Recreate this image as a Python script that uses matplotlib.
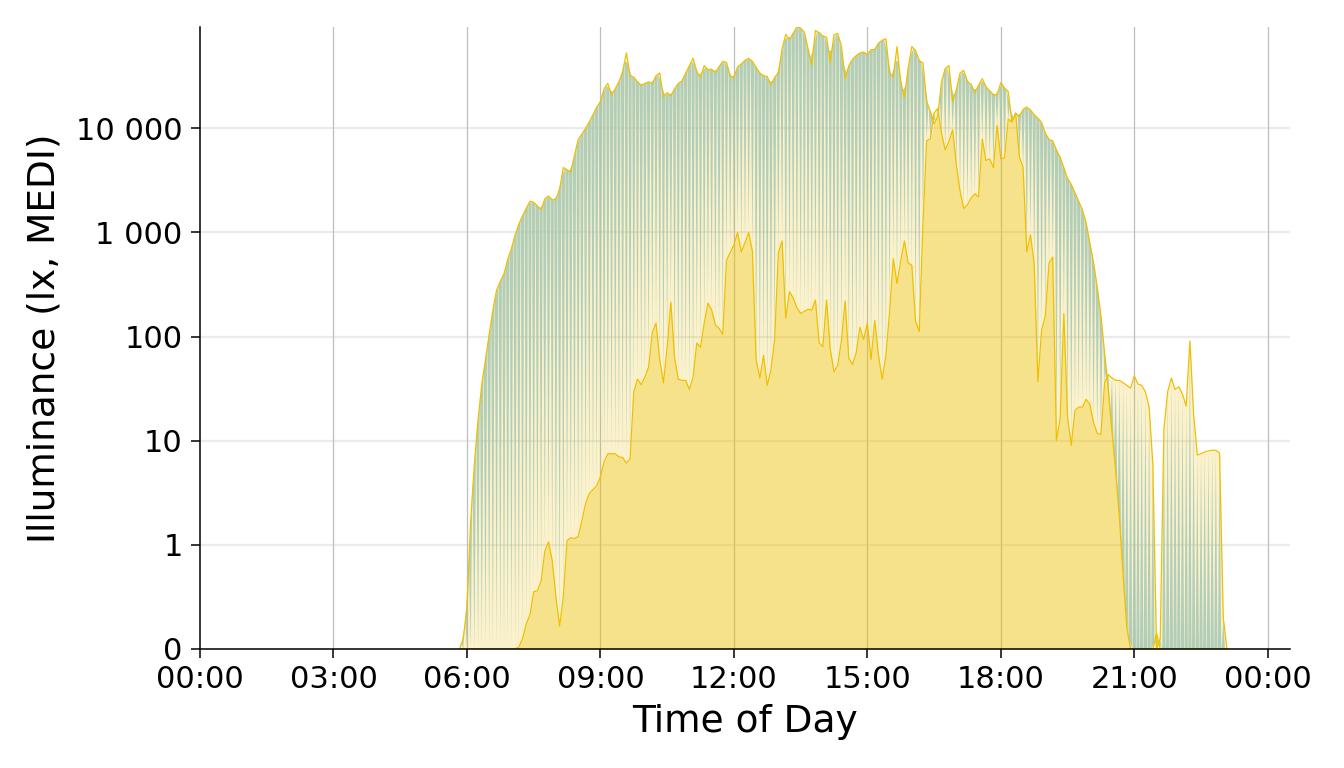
import numpy as np
import matplotlib
matplotlib.use("Agg")
import matplotlib.pyplot as plt
from matplotlib.collections import PolyCollection

# 5-minute epochs from 05:50 to 23:05
start_h = 5 + 50 / 60
step_h = 5 / 60

# series A (the high one in daytime), lux
light_a = ([0, 0.1]
           + [0.4, 1.7, 6, 16, 35, 60, 105, 180, 280, 340, 400, 550]                      # 06
           + [700, 950, 1200, 1450, 1700, 2000, 1950, 1800, 1650, 2100, 2250, 2050]        # 07
           + [2100, 2600, 4200, 4000, 3800, 5500, 7800, 8800, 10000, 11500, 13500, 16000]  # 08
           + [18000, 24000, 27000, 21000, 24000, 28000, 35000, 53000, 32000, 31000, 28000, 26000]
           + [27000, 28000, 27000, 32000, 34000, 20000, 22000, 20500, 24000, 27000, 28500, 34000]
           + [40000, 47000, 35000, 31000, 40000, 36500, 37000, 34500, 39000, 44000, 43000, 32000]
           + [30500, 39000, 41500, 45000, 47000, 44000, 38500, 34000, 32000, 31500, 26000, 31000]
           + [34000, 58000, 80000, 71000, 82000, 94000, 92000, 84000, 58000, 40500, 87000, 83000]
           + [77000, 75000, 43000, 79000, 81500, 62000, 30000, 40000, 46000, 50000, 53000, 54000]
           + [51000, 57000, 57000, 66000, 70000, 72500, 34000, 31000, 61000, 28000, 19700, 38000]
           + [61000, 56000, 44500, 42500, 18000, 14500, 11000, 13000, 28000, 37500, 40000, 18000]
           + [23500, 34000, 36000, 28000, 26500, 22000, 26000, 30000, 25000, 23000, 21000, 21000]
           + [27500, 24500, 22500, 11500, 14000, 13000, 15200, 16000, 15000, 13500, 12500, 11400]
           + [9000, 7800, 7600, 6200, 5300, 4200, 3300, 2900, 2400, 2000, 1650, 1250]
           + [800, 520, 300, 160, 70, 30, 12, 5, 1.8, 0.7, 0.2, 0]
           + [0, 0, 0, 0, 0, 0, 0.15, 0, 0, 0, 0, 0]
           + [0] * 12
           + [0, 0])

# series B (the low one in daytime), lux
light_b = ([0, 0]
           + [0] * 12
           + [0, 0, 0.02, 0.1, 0.24, 0.33, 0.55, 0.56, 0.65, 0.94, 1.07, 0.85]
           + [0.5, 0.22, 0.5, 1.1, 1.17, 1.15, 1.2, 1.7, 2.5, 3.1, 3.4, 3.7]
           + [4.5, 6.3, 7.5, 7.5, 7.5, 7, 6.9, 6.1, 6.7, 29.5, 39, 34.5]
           + [41, 51, 110, 135, 60, 36, 79, 215, 63, 39, 38, 38]
           + [31, 41, 87, 79, 135, 210, 180, 130, 120, 105, 540, 640]
           + [760, 1000, 650, 800, 1000, 660, 60, 40, 66, 34, 48, 95]
           + [640, 830, 150, 270, 235, 190, 167, 175, 183, 180, 225, 87]
           + [80, 225, 76, 46, 53, 91, 220, 62, 54, 70, 123, 94]
           + [135, 60, 143, 66, 39, 66, 173, 560, 324, 535, 830, 510]
           + [485, 140, 112, 1200, 7600, 7900, 14000, 15500, 9000, 6200, 7500, 9700]
           + [4500, 2500, 1700, 1850, 2150, 2350, 2200, 7900, 4900, 5100, 4200, 10700]
           + [5100, 5200, 12300, 11500, 14000, 5300, 4250, 650, 950, 500, 37, 115]
           + [158, 510, 580, 10, 16.5, 167, 17, 9, 19.6, 21, 21, 25]
           + [22.5, 15, 11.8, 11.5, 36, 43, 40, 38, 38, 36, 34, 32]
           + [42, 35, 34, 29.5, 21, 6, 0, 0.1, 13, 29.5, 40, 31]
           + [33, 28, 21.5, 91, 18, 7.3, 7.5, 7.8, 8, 8.1, 8.1, 7.6]
           + [0.3, 0])

y_ticks = [0, 1, 10, 100, 1000, 10000]
y_labels = ["0", "1", "10", "100", "1 000", "10 000"]
x_ticks = list(range(0, 25, 3))
x_labels = ["00:00", "03:00", "06:00", "09:00", "12:00", "15:00", "18:00", "21:00", "00:00"]

A = np.array(light_a, float)
B = np.array(light_b, float)
t = start_h + step_h * np.arange(len(A))


# symlog: linear 0..1, log10 above
def fwd(v):
    v = np.asarray(v, float)
    return np.where(v <= 1, v, 1 + np.log10(np.maximum(v, 1)))


def inv(u):
    u = np.asarray(u, float)
    return np.where(u <= 1, u, 10 ** (u - 1))


YEL = "#EFC000"

fig = plt.figure(figsize=(13.44, 7.68), dpi=100)
ax = fig.add_axes([200 / 1344, 1 - 649 / 768, 1090 / 1344, 622 / 768])
ax.set_yscale("function", functions=(fwd, inv))

# grid underneath
for yt in y_ticks[1:]:
    ax.axhline(yt, color="#EBEBEB", lw=1.6, zorder=0)
for xt in x_ticks[1:]:
    ax.axvline(xt, color="#BEBEBE", lw=0.9, zorder=0)

lo = np.minimum(A, B)
hi = np.maximum(A, B)
ax.fill_between(t, lo, hi, color=YEL, alpha=0.2, lw=0, zorder=1)

# striped gradient: wedges from series A down to series B
uA = fwd(A)
w = step_h * 0.9
wedges = []
for i in range(len(t)):
    if A[i] == 0 and B[i] == 0:
        continue
    l, r = t[i] - w / 2, t[i] + w / 2
    yl = float(inv(np.interp(l, t, uA)))
    yr = float(inv(np.interp(r, t, uA)))
    wedges.append([(l, yl), (r, yr), (t[i], B[i])])
pc = PolyCollection(wedges, facecolor="#A6C8B6", edgecolor="none", alpha=0.85, zorder=2)
ax.add_collection(pc)

ax.fill_between(t, 0, lo, color=YEL, alpha=0.45, lw=0, zorder=3)
ax.plot(t, A, color=YEL, lw=0.9, zorder=4)
ax.plot(t, B, color=YEL, lw=0.9, zorder=4)

ax.set_xlim(0, 24.5)
ax.set_ylim(0, A.max())
ax.set_xticks(x_ticks)
ax.set_xticklabels(x_labels)
ax.set_yticks(y_ticks)
ax.set_yticklabels(y_labels)
ax.minorticks_off()

for s in ["top", "right"]:
    ax.spines[s].set_visible(False)
for s in ["left", "bottom"]:
    ax.spines[s].set_linewidth(1.1)
    ax.spines[s].set_zorder(6)
ax.tick_params(axis="both", length=6.5, width=1.1, labelsize=22, colors="black")
ax.tick_params(axis="x", pad=5)
ax.tick_params(axis="y", pad=6)

ax.set_xlabel("Time of Day", fontsize=27, labelpad=7)
ax.set_ylabel("Illuminance (lx, MEDI)", fontsize=27, labelpad=10)

fig.savefig("out.png", dpi=100)
